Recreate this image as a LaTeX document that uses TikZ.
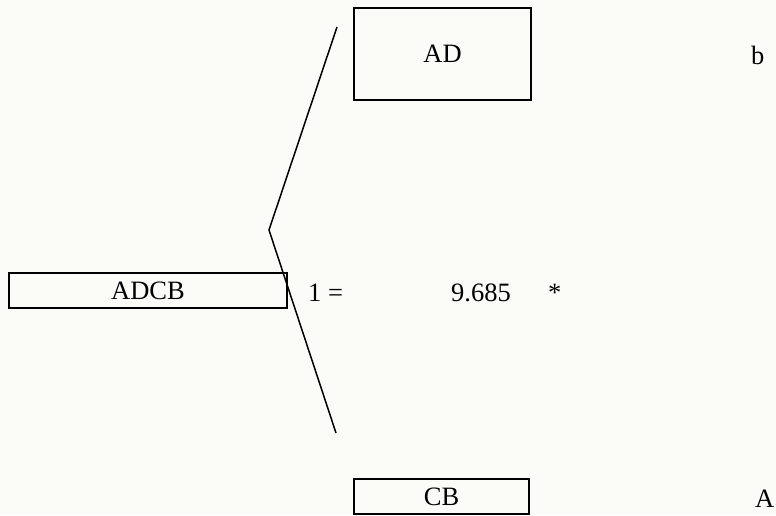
\documentclass[tikz,border=0pt]{standalone}
\usepackage{fontspec}
\setmainfont{Liberation Serif}
\begin{document}
\begin{tikzpicture}[x=1pt,y=-1pt,
  every node/.style={font=\fontsize{26.5}{30}\selectfont, inner sep=0pt, text=black},
  boxnode/.style={draw=black, line width=1.9pt, minimum width=#1},
  lbl/.style={anchor=base west},
  brk/.style={line width=1.5pt, draw=black}]
\fill[fill={rgb,255:red,251;green,252;blue,248}] (0,0) rectangle (776,515);
\useasboundingbox (0,0) rectangle (776,515);
\node[boxnode=177pt, minimum height=92pt] (ad) at (442.5,54) {AD};
\node[boxnode=278pt, minimum height=35pt] (adcb) at (148,290.5) {ADCB};
\node[boxnode=175pt, minimum height=35pt] (cb) at (441.5,496.5) {CB};
\node[lbl] (b) at (751,64) {b};
\node[lbl] (a) at (755,507) {A};
\node[lbl] (leq) at (308,301) {1 =};
\node[lbl] (val) at (451,301) {9.685};
\node[lbl] (star) at (548,301) {*};
\coordinate (top) at (337,27);
\coordinate (vtx) at (269,230);
\coordinate (bot) at (336,433);
\draw[brk] (top) -- (vtx) -- (bot);
\end{tikzpicture}
\end{document}
